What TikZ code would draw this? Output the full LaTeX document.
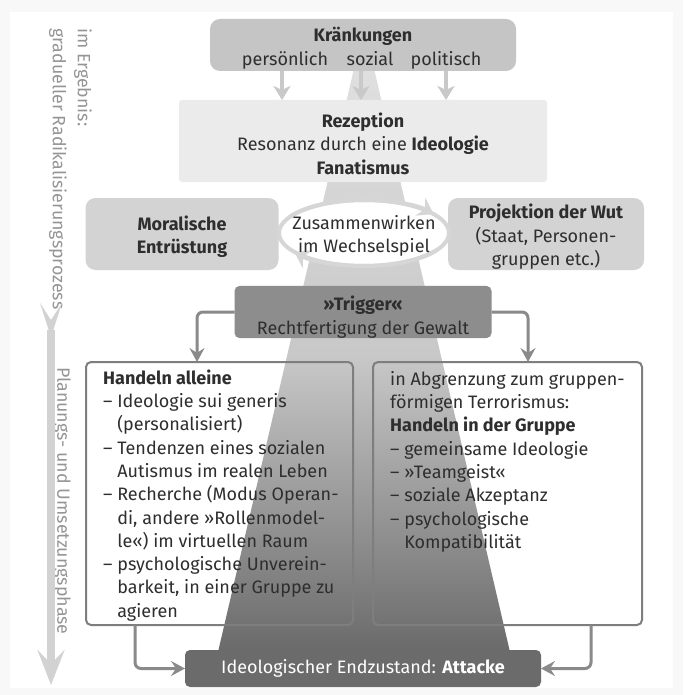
\documentclass[tikz,border=0pt]{standalone}
\usepackage{fontspec}
\setmainfont{Fira Sans}
\usetikzlibrary{arrows.meta}

\definecolor{cRand}{HTML}{F8F8F8}
\definecolor{cKrank}{HTML}{C5C5C5}
\definecolor{cRezep}{HTML}{EBEBEB}
\definecolor{cSeite}{HTML}{D3D3D3}
\definecolor{cTrigger}{HTML}{8D8D8D}
\definecolor{cAttacke}{HTML}{6B6B6B}
\definecolor{cText}{HTML}{2E2E2E}
\definecolor{cFrame}{HTML}{7E7E7E}
\definecolor{cPfeil}{HTML}{8A8A8A}
\definecolor{cHell}{HTML}{C9C9C9}
\definecolor{cRing}{HTML}{D6D6D6}
\definecolor{cRandtext}{HTML}{959595}
\definecolor{cRandpfeil}{HTML}{D2D2D2}
\definecolor{cKeilU}{HTML}{6A6A6A}
\definecolor{cKeilM}{HTML}{C8C8C8}
\definecolor{cKeilO}{HTML}{E0E0E0}

\pgfdeclareverticalshading{keil}{100bp}{color(0bp)=(cKeilU); color(25bp)=(cKeilU);
  color(50bp)=(cKeilM); color(75bp)=(cKeilO); color(100bp)=(cKeilO)}

\newcommand{\schrift}{\fontsize{18}{23.3}\selectfont}
\newcommand{\ein}{\phantom{–\ }}
\newcommand{\hoch}{\rule{0pt}{20pt}}
\newcommand{\kopf}{\rule{0pt}{15pt}}

\tikzset{
  txt/.style={font=\schrift, text=cText, align=center},
  greybox/.style={txt, rounded corners=10pt, inner sep=0pt, outer sep=0pt},
  framebox/.style={draw=cFrame, line width=2pt, rounded corners=5pt, inner sep=0pt,
    outer sep=0pt, minimum height=263pt, anchor=north west},
  boxtext/.style={font=\schrift, text=cText, align=left, anchor=north west, inner sep=0pt},
  pfeil/.style={draw=cPfeil, line width=3pt, rounded corners=6pt,
    -{Stealth[length=14pt,width=15pt,inset=5pt]}},
  hellpfeil/.style={draw=cHell, line width=4pt, -{Stealth[length=14pt,width=17pt,inset=4pt]}},
  ring/.style={draw=cRing, line width=4pt},
  ringpfeil/.style={draw=cRing, line width=4pt, -{Stealth[length=15pt,width=20pt,inset=5pt]}},
  randtext/.style={font=\fontsize{17.8}{25}\selectfont, text=cRandtext, rotate=-90,
    align=left, anchor=north west, inner sep=0pt},
  randpfeil/.style={draw=cRandpfeil, line width=8pt, -{Stealth[length=35pt,width=27pt,inset=14pt]}}
}

\begin{document}
\begin{tikzpicture}[x=1pt, y=1pt]
  \useasboundingbox (0,0) rectangle (683,-695);
  % page ground
  \fill[cRand] (0,0) rectangle (683,-695);
  \fill[white] (10,-12) rectangle (673,-688);
  % wedge behind everything
  \shade[shading=keil] (356,-60) -- (372,-60) -- (510,-652) -- (218,-652) -- cycle;
  % Kraenkungen (top)
  \node[greybox, fill=cKrank, minimum width=306pt, minimum height=52pt] (krank) at (363,-45) {};
  \node[txt, font=\schrift\bfseries, anchor=base] (kraenk) at (363,-42) {Kränkungen};
  \node[txt, anchor=base] (pers) at (285,-66) {persönlich};
  \node[txt, anchor=base] (sozial) at (370,-66) {sozial};
  \node[txt, anchor=base] (polit) at (446,-66) {politisch};
  % Rezeption
  \node[greybox, fill=cRezep, rounded corners=3pt, minimum width=368pt, minimum height=82pt] (rezep) at (363,-141)
    {\hoch\textbf{Rezeption}\\Resonanz durch eine \textbf{Ideologie}\\\textbf{Fanatismus}};
  \draw[hellpfeil] ([xshift=-81pt]krank.south) -- ([xshift=-81pt]rezep.north);
  \draw[hellpfeil] ([xshift=-2pt]krank.south) -- ([xshift=-2pt]rezep.north);
  \draw[hellpfeil] ([xshift=83pt]krank.south) -- ([xshift=83pt]rezep.north);
  % side boxes
  \node[greybox, fill=cSeite, minimum width=193pt, minimum height=72pt] (moral) at (182,-234)
    {\hoch\textbf{Moralische}\\\textbf{Entrüstung}};
  \node[greybox, fill=cSeite, minimum width=196pt, minimum height=72pt] (proj) at (546,-234)
    {\hoch\textbf{Projektion der Wut}\\(Staat, Personen-\\gruppen etc.)};
  % interplay ring
  \coordinate (ringmitte) at (364,-233);
  \draw[ring, fill=white] (ringmitte) ellipse[x radius=85pt, y radius=33pt];
  \draw[ringpfeil] (ringmitte) ++(150:85pt and 33pt) arc[start angle=150, end angle=35, x radius=85pt, y radius=33pt];
  \draw[ringpfeil] (ringmitte) ++(330:85pt and 33pt) arc[start angle=330, end angle=215, x radius=85pt, y radius=33pt];
  \node[txt] (wechsel) at (ringmitte) {\hoch Zusammenwirken\\im Wechselspiel};
  % Trigger
  \node[greybox, fill=cTrigger, rounded corners=5pt, minimum width=257pt, minimum height=51pt] (trigger) at (363,-312)
    {\rule{0pt}{25pt}\textbf{»Trigger«}\\Rechtfertigung der Gewalt};
  % acting alone (left)
  \node[framebox, minimum width=267pt] (alone) at (86,-362) {};
  \node[boxtext] (alonetext) at (103,-369)
    {\kopf\textbf{Handeln alleine}\\
     – Ideologie sui generis\\
     \ein(personalisiert)\\
     – Tendenzen eines sozialen\\
     \ein Autismus im realen Leben\\
     – Recherche (Modus Operan-\\
     \ein di, andere »Rollenmodel-\\
     \ein le«) im virtuellen Raum\\
     – psychologische Unverein-\\
     \ein barkeit, in einer Gruppe zu\\
     \ein agieren};
  % acting in a group (right)
  \node[framebox, minimum width=269pt] (gruppe) at (373,-362) {};
  \node[boxtext] (gruppetext) at (390,-370)
    {\kopf in Abgrenzung zum gruppen-\\
     förmigen Terrorismus:\\
     \textbf{Handeln in der Gruppe}\\
     – gemeinsame Ideologie\\
     – »Teamgeist«\\
     – soziale Akzeptanz\\
     – psychologische\\
     \ein Kompatibilität};
  % end state
  \node[greybox, fill=cAttacke, text=white, rounded corners=5pt, minimum width=356pt, minimum height=37pt] (attacke) at (363,-668.5)
    {Ideologischer Endzustand: \textbf{Attacke}};
  % connections
  \draw[pfeil] (trigger.west) -| ([xshift=-22.5pt]alone.north);
  \draw[pfeil] (trigger.east) -| ([xshift=20.5pt]gruppe.north);
  \draw[pfeil] ([xshift=-84.5pt]alone.south) |- (attacke.west);
  \draw[pfeil] ([xshift=83.5pt]gruppe.south) |- (attacke.east);
  % phases (left margin)
  \node[randtext] (ergebnis) at (92,-28) {im Ergebnis:\\gradueller Radikalisierungsprozess};
  \node[randtext] (planung) at (71,-367) {Planungs- und Umsetzungsphase};
  \fill[cRandpfeil] (40,-303) -- (51,-337) -- (62,-303) -- (51,-320) -- cycle;
  \coordinate (phaseoben) at (51,-330);
  \coordinate (phaseunten) at (51,-685);
  \draw[randpfeil] (phaseoben) -- (phaseunten);
\end{tikzpicture}
\end{document}
